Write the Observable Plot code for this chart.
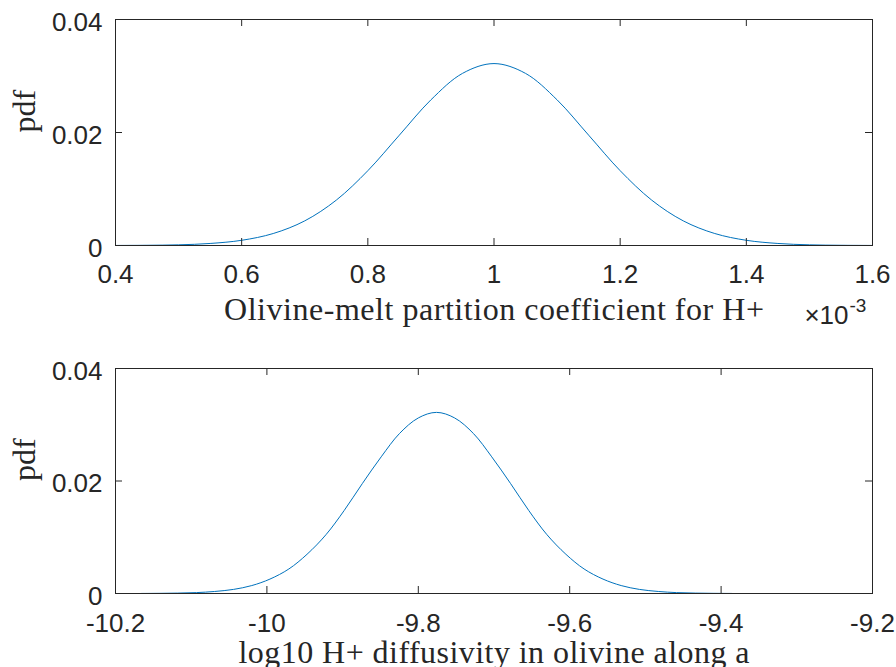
<!DOCTYPE html>
<html>
<head>
<meta charset="utf-8">
<script src="https://cdn.jsdelivr.net/npm/d3@7"></script>
<script src="https://cdn.jsdelivr.net/npm/@observablehq/plot@0.6"></script>
<style>
  html, body { margin: 0; padding: 0; background: #fff; overflow: hidden; width: 896px; height: 667px; }
  #chart { position: relative; width: 896px; height: 667px; }
  #chart svg { position: absolute; left: 0; display: block; max-width: none !important; }
</style>
</head>
<body>
<div id="chart"></div>
<script>
// ---- Data ----
// Top panel: olivine-melt partition coefficient (x in units of 1e-3)
const kdX = [0.40, 0.45, 0.50, 0.55, 0.60, 0.65, 0.70, 0.75, 0.80, 0.85, 0.90, 0.95, 1.00,
             1.05, 1.10, 1.15, 1.20, 1.25, 1.30, 1.35, 1.40, 1.45, 1.50, 1.55, 1.60];
const kdPdf = [0.00001, 0.00004, 0.00012, 0.00036, 0.00092, 0.00212, 0.00436, 0.00803, 0.01324, 0.01953, 0.02578, 0.03046, 0.03220,
               0.03046, 0.02578, 0.01953, 0.01324, 0.00803, 0.00436, 0.00212, 0.00092, 0.00036, 0.00012, 0.00004, 0.00001];

// Bottom panel: log10 H+ diffusivity
const dX = [-10.166, -10.142, -10.118, -10.093, -10.069, -10.044, -10.020, -9.996, -9.971, -9.947, -9.922, -9.898, -9.874, -9.849, -9.825, -9.800,
            -9.776,
            -9.752, -9.727, -9.703, -9.678, -9.654, -9.630, -9.605, -9.581, -9.556, -9.532, -9.508, -9.483, -9.459, -9.434, -9.410, -9.386];
const dPdf = [0.00001, 0.00003, 0.00007, 0.00016, 0.00036, 0.00073, 0.00141, 0.00256, 0.00436, 0.00697, 0.01045, 0.01474, 0.01953, 0.02430, 0.02842, 0.03121,
              0.03220,
              0.03121, 0.02842, 0.02430, 0.01953, 0.01474, 0.01045, 0.00697, 0.00436, 0.00256, 0.00141, 0.00073, 0.00036, 0.00016, 0.00007, 0.00003, 0.00001];

// Tick values and labels
const kdTicks = [0.4, 0.6, 0.8, 1, 1.2, 1.4, 1.6];
const dTicks = [-10.2, -10, -9.8, -9.6, -9.4, -9.2];
const pdfTicks = [0, 0.02, 0.04];
const kdLabel = "Olivine-melt partition coefficient for H+";
const dLabel = "log10 H+ diffusivity in olivine along a";
const yLabel = "pdf";
const expBase = "\u00d710";
const expPower = "-3";

// ---- Drawing ----
const W = 896;
const ML = 115, MR = 24;
const ink = "#262626";
const serif = "'Liberation Serif', 'Times New Roman', serif";
const sans = "'Liberation Sans', Arial, Helvetica, sans-serif";

function panel({xs, ys, xDomain, xTicks, xLabel, labelWidth, labelDy, tickPadding, height, marginTop, marginBottom, exponent}) {
  const frameH = height - marginTop - marginBottom;
  const frameW = W - ML - MR;
  const tick = 7;
  const rows = xs.map((x, i) => ({x, y: ys[i]}));
  const marks = [
    Plot.line(rows, {x: "x", y: "y", curve: "catmull-rom", stroke: "#0072BD", strokeWidth: 1}),
    Plot.ruleX(xTicks, {x: d => d, insetTop: frameH - tick, stroke: ink, strokeWidth: 1}),
    Plot.ruleX(xTicks, {x: d => d, insetBottom: frameH - tick, stroke: ink, strokeWidth: 1}),
    Plot.ruleY(pdfTicks, {y: d => d, insetRight: frameW - tick, stroke: ink, strokeWidth: 1}),
    Plot.ruleY(pdfTicks, {y: d => d, insetLeft: frameW - tick, stroke: ink, strokeWidth: 1}),
    Plot.frame({stroke: ink, strokeWidth: 1}),
    Plot.axisX(xTicks, {tickSize: 0, tickPadding, tickFormat: d => String(d), fontSize: 26, label: null}),
    Plot.axisY(pdfTicks, {tickSize: 0, tickPadding: 13, tickFormat: d => String(d), fontSize: 26, label: null, dy: 3}),
    Plot.text([xLabel], {text: d => d, frameAnchor: "bottom", dy: labelDy, fontFamily: serif, fontSize: 32, fill: ink, className: "xlabel"}),
    Plot.text([yLabel], {text: d => d, frameAnchor: "left", rotate: -90, dx: -91, fontFamily: serif, fontSize: 32, fill: ink})
  ];
  if (exponent) {
    marks.push(Plot.text([expBase], {text: d => d, frameAnchor: "bottom-right", textAnchor: "end", dx: -24, dy: 78, fontSize: 26, fill: ink}));
    marks.push(Plot.text([expPower], {text: d => d, frameAnchor: "bottom-right", textAnchor: "start", dx: -23, dy: 66, fontSize: 19, fill: ink}));
  }
  const svg = Plot.plot({
    width: W,
    height,
    marginLeft: ML,
    marginRight: MR,
    marginTop,
    marginBottom,
    style: {fontFamily: sans, color: ink, background: "transparent", overflow: "visible"},
    x: {domain: xDomain},
    y: {domain: [0, 0.04]},
    marks
  });
  // stretch the serif axis title to the width it takes in the reference
  d3.select(svg).selectAll("g.xlabel text")
    .attr("textLength", labelWidth)
    .attr("lengthAdjust", "spacing");
  return svg;
}

const topPanel = panel({xs: kdX, ys: kdPdf, xDomain: [0.4, 1.6], xTicks: kdTicks, xLabel: kdLabel, labelWidth: 540,
                        labelDy: 74, tickPadding: 19,
                        height: 345, marginTop: 19, marginBottom: 100, exponent: true});
const bottomPanel = panel({xs: dX, ys: dPdf, xDomain: [-10.2, -9.2], xTicks: dTicks, xLabel: dLabel, labelWidth: 511,
                           labelDy: 69, tickPadding: 20,
                           height: 322, marginTop: 23, marginBottom: 74, exponent: false});
topPanel.style.top = "0px";
bottomPanel.style.top = "345px";
const root = document.getElementById("chart");
root.appendChild(topPanel);
root.appendChild(bottomPanel);
</script>
</body>
</html>
